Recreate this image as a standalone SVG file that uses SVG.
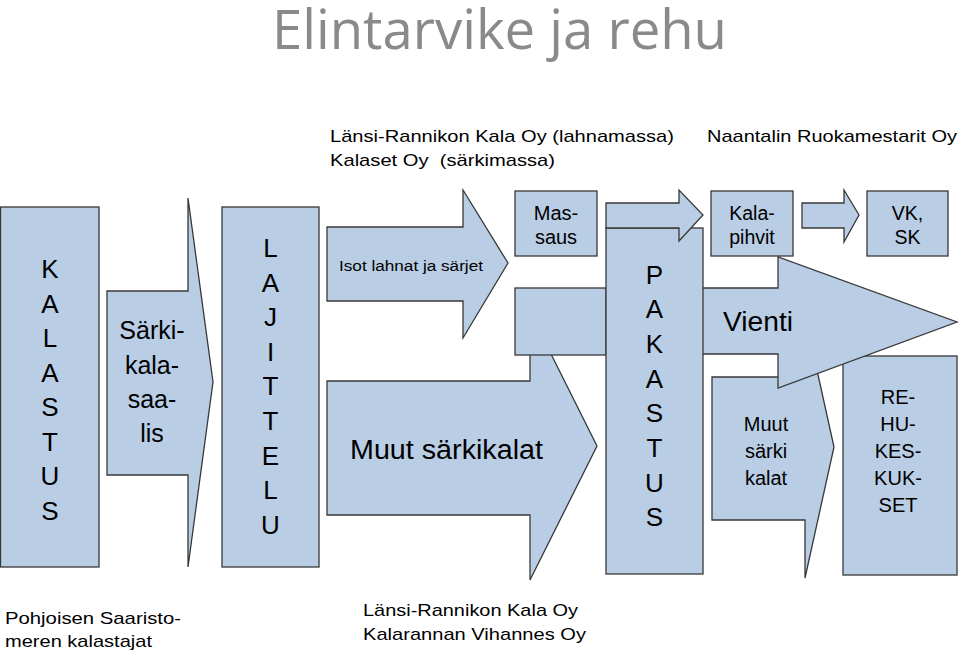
<svg xmlns="http://www.w3.org/2000/svg" width="960" height="653" viewBox="0 0 960 653">
<style>
.s{fill:#b9cde5;stroke:#383838;stroke-width:1.3;stroke-linejoin:miter}
text{font-family:"Liberation Sans",Arial,sans-serif;fill:#000}
.c{text-anchor:middle}
.title{font-family:"Open Sans","Noto Sans",sans-serif;fill:#8a8a8a;font-size:55px}
</style>
<rect width="960" height="653" fill="#fff"/>
<text class="title" x="272" y="49" textLength="455" lengthAdjust="spacingAndGlyphs">Elintarvike ja rehu</text>
<g id="labels-top" font-size="17">
<text x="330" y="142" textLength="344" lengthAdjust="spacingAndGlyphs">Länsi-Rannikon Kala Oy (lahnamassa)</text>
<text x="330" y="166" textLength="225" lengthAdjust="spacingAndGlyphs" xml:space="preserve">Kalaset Oy  (särkimassa)</text>
<text x="707" y="142" textLength="250" lengthAdjust="spacingAndGlyphs">Naantalin Ruokamestarit Oy</text>
</g>
<g id="labels-bottom" font-size="17">
<text x="5" y="624" textLength="176" lengthAdjust="spacingAndGlyphs">Pohjoisen Saaristo-</text>
<text x="5" y="647" textLength="147" lengthAdjust="spacingAndGlyphs">meren kalastajat</text>
<text x="363" y="616" textLength="215" lengthAdjust="spacingAndGlyphs">Länsi-Rannikon Kala Oy</text>
<text x="363" y="640" textLength="223" lengthAdjust="spacingAndGlyphs">Kalarannan Vihannes Oy</text>
</g>
<g id="kalastus">
<rect class="s" x="0.5" y="207" width="98.5" height="360"/>
<text class="c" font-size="26" x="50" y="278"><tspan x="50">K</tspan><tspan x="50" dy="34.5">A</tspan><tspan x="50" dy="34.5">L</tspan><tspan x="50" dy="34.5">A</tspan><tspan x="50" dy="34.5">S</tspan><tspan x="50" dy="34.5">T</tspan><tspan x="50" dy="34.5">U</tspan><tspan x="50" dy="34.5">S</tspan></text>
</g>
<g id="sarkikalasaalis">
<polygon class="s" points="107,291 188,291 188,198 213,382 188,567 188,475 107,475"/>
<text class="c" font-size="25" x="152" y="339"><tspan x="152">Särki-</tspan><tspan x="152" dy="35">kala-</tspan><tspan x="152" dy="34">saa-</tspan><tspan x="152" dy="34">lis</tspan></text>
</g>
<g id="lajittelu">
<rect class="s" x="222" y="207" width="97" height="360"/>
<text class="c" font-size="26" x="270.5" y="257"><tspan x="270.5">L</tspan><tspan x="270.5" dy="34.6">A</tspan><tspan x="270.5" dy="34.6">J</tspan><tspan x="270.5" dy="34.6">I</tspan><tspan x="270.5" dy="34.6">T</tspan><tspan x="270.5" dy="34.6">T</tspan><tspan x="270.5" dy="34.6">E</tspan><tspan x="270.5" dy="34.6">L</tspan><tspan x="270.5" dy="34.6">U</tspan></text>
</g>
<g id="isot-lahnat">
<polygon class="s" points="327,227 463,227 463,190 508,263 463,338 463,301 327,301"/>
<text x="339" y="271" font-size="15.5" textLength="144" lengthAdjust="spacingAndGlyphs">Isot lahnat ja särjet</text>
</g>
<g id="muut-sarkikalat">
<polygon class="s" points="327,381 530,381 530,312 597,446 530,580 530,515 327,515"/>
<text x="350" y="459" font-size="27" textLength="193" lengthAdjust="spacingAndGlyphs">Muut särkikalat</text>
</g>
<g id="valilaatikko">
<rect class="s" x="515" y="288" width="91" height="67"/>
</g>
<g id="massaus">
<rect class="s" x="515" y="191" width="82" height="65"/>
<text class="c" font-size="20" x="556" y="220"><tspan x="556">Mas-</tspan><tspan x="556" dy="24">saus</tspan></text>
</g>
<g id="muut-sarki-kalat">
<polygon class="s" points="712,377 805,377 805,316 834,447 805,578 805,520 712,520"/>
<text class="c" font-size="20" x="766" y="431"><tspan x="766">Muut</tspan><tspan x="766" dy="27">särki</tspan><tspan x="766" dy="27">kalat</tspan></text>
</g>
<g id="rehukeskukset">
<rect class="s" x="843" y="356" width="114" height="219"/>
<text class="c" font-size="20" x="898" y="404"><tspan x="898">RE-</tspan><tspan x="898" dy="27">HU-</tspan><tspan x="898" dy="27">KES-</tspan><tspan x="898" dy="27">KUK-</tspan><tspan x="898" dy="27">SET</tspan></text>
</g>
<g id="vienti">
<polygon class="s" points="700,288 778,288 778,257 957,322 778,388 778,354 700,354"/>
<text x="723" y="331" font-size="27" textLength="70" lengthAdjust="spacingAndGlyphs">Vienti</text>
</g>
<g id="pakastus">
<rect class="s" x="606" y="228" width="97" height="346"/>
<text class="c" font-size="26" x="654.5" y="283.5"><tspan x="654.5">P</tspan><tspan x="654.5" dy="34.7">A</tspan><tspan x="654.5" dy="34.7">K</tspan><tspan x="654.5" dy="34.7">A</tspan><tspan x="654.5" dy="34.7">S</tspan><tspan x="654.5" dy="34.7">T</tspan><tspan x="654.5" dy="34.7">U</tspan><tspan x="654.5" dy="34.7">S</tspan></text>
</g>
<g id="connectors">
<polygon class="s" points="606,203 679,203 679,190 703,215 679,241 679,228 606,228"/>
<polygon class="s" points="802,203 844,203 844,190 859,215 844,242 844,228 802,228"/>
</g>
<g id="kalapihvit">
<rect class="s" x="711" y="191" width="82" height="65"/>
<text class="c" font-size="19.5" x="752" y="220"><tspan x="752">Kala-</tspan><tspan x="752" dy="24">pihvit</tspan></text>
</g>
<g id="vk-sk">
<rect class="s" x="867" y="191" width="81" height="65"/>
<text class="c" font-size="19.5" x="907.5" y="220"><tspan x="907.5">VK,</tspan><tspan x="907.5" dy="24">SK</tspan></text>
</g>
</svg>
